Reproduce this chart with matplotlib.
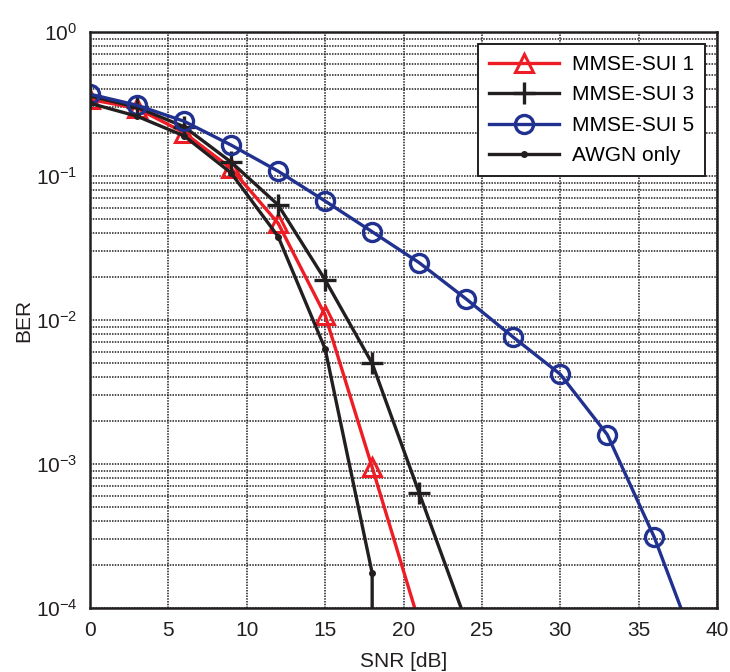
import numpy as np
import matplotlib
matplotlib.use("Agg")
from matplotlib import pyplot as plt
from matplotlib.ticker import LogLocator

plt.rcParams['font.family'] = ['Liberation Sans', 'DejaVu Sans']
plt.rcParams['mathtext.default'] = 'regular'

# SNR points (dB)
snr = [0, 3, 6, 9, 12, 15, 18, 21, 24, 27, 30, 33, 36, 39]

# BER curves
sui1 = [0.34, 0.295, 0.20, 0.113, 0.047, 0.0108, 9.5e-4, 7.9e-5]
sui3 = [0.36, 0.30, 0.22, 0.125, 0.063, 0.019, 0.005, 6.3e-4, 8e-5]
sui5 = [0.37, 0.31, 0.24, 0.164, 0.108, 0.067, 0.041, 0.025, 0.014,
        0.0076, 0.0042, 0.0016, 3.1e-4, 4.2e-5]
awgn = [0.32, 0.26, 0.19, 0.105, 0.038, 0.0063, 1.75e-4, 0.0]

labels = ['MMSE-SUI 1', 'MMSE-SUI 3', 'MMSE-SUI 5', 'AWGN only']

fig = plt.figure(figsize=(7.3, 6.72), dpi=100)
ax = fig.add_axes([0.1233, 0.0952, 0.8589, 0.8572])

ax.plot(snr[:len(sui1)], sui1, color='#ee1c25', lw=2.4, marker='^', ms=13,
        mfc='none', mew=2.2, label=labels[0])
ax.plot(snr[:len(sui3)], sui3, color='#231f20', lw=2.4, marker='+', ms=16,
        mew=2.4, label=labels[1])
ax.plot(snr[:len(sui5)], sui5, color='#21318f', lw=2.4, marker='o', ms=13,
        mfc='none', mew=2.4, label=labels[2])
ax.plot(snr[:len(awgn)], awgn, color='#231f20', lw=2.4, marker='.', ms=8,
        label=labels[3])

ax.set_yscale('log', nonpositive='clip')
ax.set_xlim(0, 40)
ax.set_ylim(1e-4, 1)
ax.set_xticks(range(0, 41, 5))
ax.yaxis.set_major_locator(LogLocator(base=10, numticks=10))
ax.yaxis.set_minor_locator(LogLocator(base=10, subs=np.arange(2, 10), numticks=20))

ax.grid(True, which='major', axis='both', color='#231f20', ls=(0, (1, 0.8)), lw=1.1)
ax.grid(True, which='minor', axis='y', color='#231f20', ls=(0, (1, 0.8)), lw=1.1)

ax.tick_params(direction='in', labelsize=15, length=0, pad=9, labelcolor='#231f20')
ax.tick_params(which='minor', length=0)
for s in ax.spines.values():
    s.set_linewidth(1.8)
    s.set_color('#231f20')

ax.set_xlabel('SNR [dB]', fontsize=15, color='#231f20', labelpad=9)
ax.set_ylabel('BER', fontsize=15, color='#231f20', labelpad=2)

leg = ax.legend(loc='upper right', fontsize=15, frameon=True, fancybox=False,
                edgecolor='#231f20', framealpha=1, borderpad=0.5,
                handlelength=3.4, labelspacing=0.55, borderaxespad=0.6,
                handletextpad=0.6)
leg.get_frame().set_linewidth(1.4)

fig.savefig('out.png', dpi=100)
